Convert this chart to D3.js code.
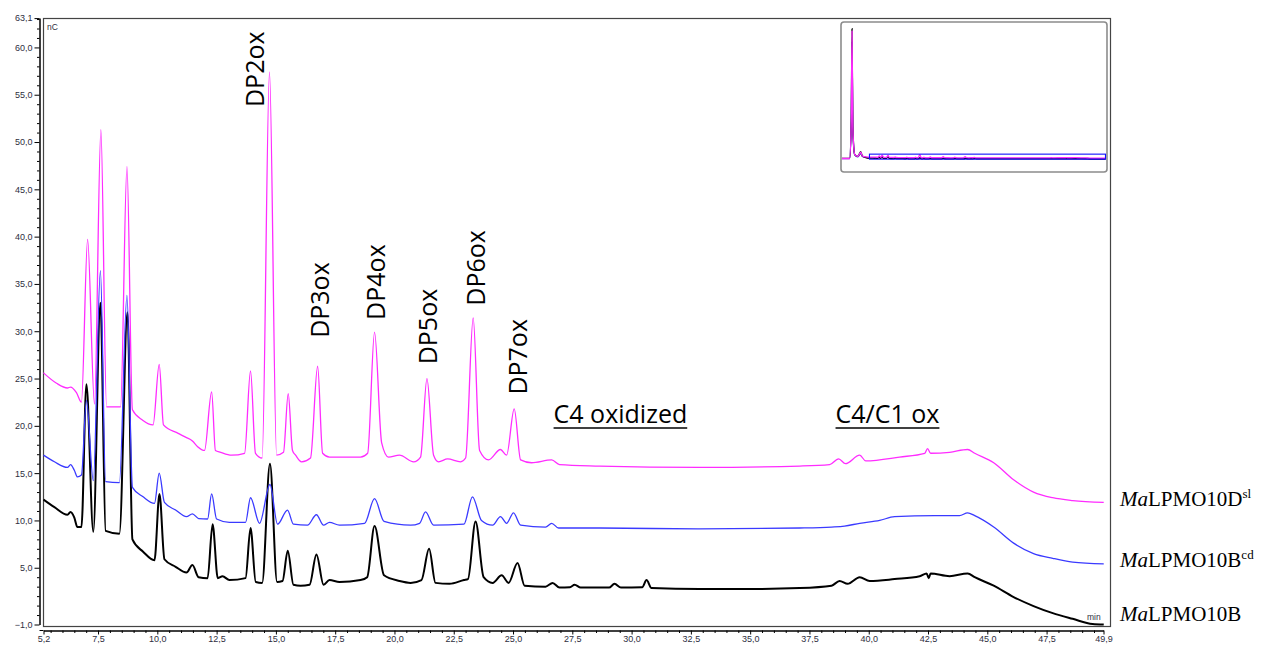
<!DOCTYPE html>
<html>
<head>
<meta charset="utf-8">
<script src="https://cdn.jsdelivr.net/npm/d3@7"></script>
<style>
  body { margin: 0; background: #fff; }
  #chart svg { display: block; }
</style>
</head>
<body>
<div id="chart"></div>
<script>
// retention time (min), signal (nC)
const traceB = [
  [5.20, 12.2], [5.66, 11.4], [6.21, 10.6], [6.34, 10.9], [6.50, 10.3], [6.63, 9.3], [6.80, 9.3],
  [7.01, 24.4], [7.30, 8.8], [7.60, 33.0], [7.82, 8.9], [8.40, 8.6], [8.74, 32.0], [8.95, 8.0],
  [9.40, 6.7], [9.88, 5.8], [10.09, 12.8], [10.30, 5.9], [10.77, 5.1], [11.23, 4.5], [11.48, 5.3],
  [11.74, 4.0], [12.12, 3.9], [12.33, 9.6], [12.55, 3.9], [12.75, 4.1], [13.04, 3.7], [13.72, 3.9],
  [13.93, 9.2], [14.15, 3.5], [14.42, 3.4], [14.75, 16.0], [15.05, 3.5], [15.28, 3.6], [15.50, 6.8],
  [15.74, 3.2], [16.04, 3.1], [16.42, 3.2], [16.71, 6.4], [17.01, 3.2], [17.26, 3.7], [17.68, 3.5],
  [18.57, 3.7], [18.85, 4.0], [19.16, 9.4], [19.56, 4.2], [20.21, 3.6], [20.68, 3.4], [21.14, 3.7],
  [21.46, 7.0], [21.73, 3.4], [22.32, 3.3], [22.93, 3.7], [23.10, 3.8], [23.42, 9.9], [23.76, 4.0],
  [24.14, 3.4], [24.52, 4.2], [24.81, 3.4], [25.19, 5.5], [25.49, 3.1], [26.37, 3.0], [26.67, 3.4],
  [26.96, 2.9], [27.40, 2.95], [27.60, 3.2], [27.85, 2.9], [29.05, 2.9], [29.28, 3.3], [29.55, 2.9],
  [30.45, 2.95], [30.63, 3.7], [30.84, 2.85], [32.87, 2.75], [34.98, 2.75], [37.09, 2.85], [38.43, 3.1],
  [38.77, 3.6], [39.11, 3.3], [39.62, 4.0], [40.04, 3.6], [41.09, 3.8], [42.15, 4.1], [42.44, 4.4],
  [42.53, 3.9], [42.61, 4.4], [43.41, 4.1], [44.17, 4.4], [44.47, 4.0], [45.27, 3.1], [46.11, 1.9],
  [46.95, 0.95], [47.76, 0.2], [48.60, -0.4], [49.44, -0.95], [49.91, -1.0]
]

const traceBcd = [
  [5.20, 16.9], [5.66, 16.2], [6.21, 15.6], [6.34, 15.9], [6.50, 15.3], [6.63, 14.6], [6.80, 14.8],
  [7.01, 22.7], [7.30, 14.2], [7.60, 36.4], [7.82, 14.1], [8.40, 14.0], [8.72, 33.8], [8.95, 13.5],
  [9.40, 12.5], [9.88, 11.8], [10.08, 15.0], [10.30, 11.9], [10.77, 11.1], [11.23, 10.4], [11.48, 10.7],
  [11.74, 10.2], [12.12, 10.15], [12.29, 12.8], [12.50, 10.15], [13.04, 9.8], [13.72, 9.8], [13.93, 12.4],
  [14.31, 9.7], [14.75, 13.8], [15.07, 9.6], [15.49, 11.1], [15.74, 9.6], [16.33, 9.5], [16.71, 10.6],
  [17.01, 9.5], [17.26, 9.8], [17.68, 9.5], [18.74, 9.7], [19.16, 12.3], [19.56, 9.9], [20.68, 9.5],
  [21.06, 9.7], [21.31, 10.9], [21.65, 9.5], [22.93, 9.6], [23.29, 12.5], [23.67, 10.0], [24.14, 9.5],
  [24.47, 10.4], [24.73, 9.7], [25.02, 10.8], [25.32, 9.5], [26.37, 9.3], [26.63, 9.7], [26.92, 9.2],
  [28.65, 9.2], [32.87, 9.1], [37.09, 9.2], [38.43, 9.3], [38.98, 9.4], [39.62, 9.7], [40.46, 10.0],
  [41.09, 10.4], [42.78, 10.5], [43.83, 10.5], [44.17, 10.8], [44.47, 10.5], [45.27, 9.3], [46.11, 7.6],
  [46.95, 6.5], [47.76, 6.0], [48.60, 5.6], [49.91, 5.4]
]

const traceDsl = [
  [5.20, 25.6], [5.75, 24.5], [6.21, 24.0], [6.34, 24.1], [6.59, 23.5], [6.80, 22.5], [7.06, 39.7],
  [7.35, 22.3], [7.62, 51.3], [7.86, 22.0], [8.45, 22.0], [8.72, 47.4], [8.95, 21.7], [9.38, 20.6],
  [9.82, 20.1], [10.08, 26.5], [10.26, 20.1], [10.88, 19.2], [11.19, 18.8], [11.48, 18.4], [11.70, 17.8],
  [11.99, 17.4], [12.29, 23.6], [12.45, 17.4], [12.67, 17.2], [13.13, 16.9], [13.68, 17.1], [13.93, 25.8],
  [14.14, 17.1], [14.42, 16.6], [14.73, 57.4], [15.03, 16.9], [15.32, 17.2], [15.52, 23.4], [15.70, 17.4],
  [15.83, 16.9], [16.08, 16.2], [16.46, 16.6], [16.76, 26.3], [16.97, 17.1], [17.26, 16.7], [17.94, 16.7],
  [18.57, 16.7], [18.87, 17.1], [19.16, 29.9], [19.46, 18.2], [19.75, 16.7], [20.21, 16.9], [20.81, 16.2],
  [21.10, 16.7], [21.37, 25.0], [21.65, 16.9], [21.86, 16.2], [22.24, 16.5], [22.79, 16.2], [23.00, 16.6],
  [23.32, 31.4], [23.59, 17.4], [23.97, 16.4], [24.47, 17.5], [24.73, 16.9], [25.05, 21.8], [25.32, 16.4],
  [25.78, 16.1], [26.63, 16.4], [26.96, 15.9], [28.65, 15.75], [32.87, 15.6], [37.09, 15.75], [38.35, 15.9],
  [38.73, 16.5], [39.02, 16.0], [39.62, 16.9], [39.87, 16.3], [41.30, 16.7], [42.36, 17.1], [42.48, 17.6],
  [42.61, 17.1], [43.41, 17.2], [44.17, 17.5], [44.47, 17.1], [45.27, 16.1], [46.11, 14.3], [46.95, 13.0],
  [47.76, 12.4], [48.60, 12.1], [49.91, 11.9]
]

// start of the run (0 - 5.2 min), only seen in the overview inset
const earlyB = [[0, 8], [1.45, 8], [1.75, 500], [1.9, 1670], [2.05, 420], [2.4, 60], [3.0, 35], [3.55, 95], [3.85, 40], [4.5, 20]]
const earlyBcd = [[0, 6], [1.45, 6], [1.75, 450], [1.9, 1500], [2.05, 380], [2.4, 55], [3.0, 30], [3.55, 70], [3.85, 35], [4.5, 22]]
const earlyDsl = [[0, 7], [1.45, 7], [1.75, 480], [1.9, 1640], [2.05, 410], [2.4, 60], [3.0, 35], [3.55, 90], [3.85, 40], [4.5, 28]]

const seriesNames = ['MaLPMO10B', 'MaLPMO10B', 'MaLPMO10D']
const seriesSup = ['', 'cd', 'sl']

const xMajorTicks = [5.2, 7.5, 10, 12.5, 15, 17.5, 20, 22.5, 25, 27.5, 30, 32.5, 35, 37.5, 40, 42.5, 45, 47.5, 49.9]
const yMajorTicks = [-1, 5, 10, 15, 20, 25, 30, 35, 40, 45, 50, 55, 60, 63.1]

const peakLabels = ['DP2ox', 'DP3ox', 'DP4ox', 'DP5ox', 'DP6ox', 'DP7ox']
const peakLabelTime = [14.48, 17.26, 19.62, 21.78, 23.8, 25.57]
const peakLabelValue = [53.7, 29.3, 31.2, 26.5, 32.7, 23.3]
const regionLabels = ['C4 oxidized', 'C4/C1 ox']
const regionLabelTime = [26.71, 38.6]
const regionLabelValue = 20.3

const width = 1266
const height = 645
const frame = { left: 43, right: 1111, top: 18, bottom: 627 }
const xAxisY = 630.5

const x = d3.scaleLinear().domain([5.2, 49.9]).range([43.5, 1103.5])
const y = d3.scaleLinear().domain([-1, 63.1]).range([624.5, 18.1])

const fmt = d3.formatLocale({ decimal: ',', thousands: '.', grouping: [3], currency: ['', ''] }).format('.1f')

const svg = d3.select('#chart')
  .append('svg')
  .attr('width', width)
  .attr('height', height)

svg.append('defs').append('clipPath')
  .attr('id', 'plot-clip')
  .append('rect')
  .attr('x', frame.left)
  .attr('y', frame.top)
  .attr('width', frame.right - frame.left)
  .attr('height', frame.bottom - frame.top)

// frame
svg.append('rect')
  .attr('x', frame.left + 0.5)
  .attr('y', frame.top + 0.5)
  .attr('width', frame.right - frame.left - 1)
  .attr('height', frame.bottom - frame.top - 1)
  .attr('fill', 'none')
  .attr('stroke', '#444')
  .attr('stroke-width', 1.2)

// y axis
const yMinor = d3.range(-1, 63.1, 1).filter(v => !yMajorTicks.includes(v))
svg.append('g')
  .attr('transform', 'translate(39.5,0)')
  .call(d3.axisLeft(y).tickValues(yMinor).tickSize(2.5).tickSizeOuter(0).tickFormat(''))
svg.append('g')
  .attr('class', 'axis')
  .attr('transform', 'translate(39.5,0)')
  .call(d3.axisLeft(y).tickValues(yMajorTicks).tickSize(5).tickSizeOuter(0).tickPadding(2).tickFormat(fmt))

// x axis
const xMinor = d3.range(5.5, 49.9, 0.5).filter(v => !xMajorTicks.includes(v))
svg.append('g')
  .attr('transform', `translate(0,${xAxisY})`)
  .call(d3.axisBottom(x).tickValues(xMinor).tickSize(2.5).tickSizeOuter(0).tickFormat(''))
svg.append('g')
  .attr('class', 'axis')
  .attr('transform', `translate(0,${xAxisY})`)
  .call(d3.axisBottom(x).tickValues(xMajorTicks).tickSize(4).tickSizeOuter(0).tickPadding(1).tickFormat(fmt))
svg.append('line')
  .attr('x1', 39.5).attr('x2', 43.5)
  .attr('y1', xAxisY).attr('y2', xAxisY)
  .attr('stroke', '#000')

svg.selectAll('.axis text')
  .attr('font-family', 'Liberation Sans, Arial, sans-serif')
  .attr('font-size', 9)
  .attr('fill', '#2e2e40')

svg.append('text')
  .attr('x', 47).attr('y', 30)
  .attr('font-family', 'Liberation Sans, Arial, sans-serif')
  .attr('font-size', 8.5)
  .attr('fill', '#2e2e40')
  .text('nC')
svg.append('text')
  .attr('x', 1087).attr('y', 620)
  .attr('font-family', 'Liberation Sans, Arial, sans-serif')
  .attr('font-size', 8.5)
  .attr('fill', '#2e2e40')
  .text('min')

// traces
const line = d3.line()
  .x(d => x(d[0]))
  .y(d => y(d[1]))
  .curve(d3.curveMonotoneX)

const traces = [
  { data: traceB, color: '#000000', w: 2 },
  { data: traceBcd, color: '#3a3aff', w: 1.3 },
  { data: traceDsl, color: '#ff2cff', w: 1.3 }
]

const plot = svg.append('g').attr('clip-path', 'url(#plot-clip)')
plot.selectAll('path.trace')
  .data(traces)
  .enter()
  .append('path')
  .attr('class', 'trace')
  .attr('d', d => line(d.data))
  .attr('fill', 'none')
  .attr('stroke', d => d.color)
  .attr('stroke-width', d => d.w)
  .attr('stroke-linejoin', 'round')

// annotations
svg.selectAll('text.peak')
  .data(peakLabels)
  .enter()
  .append('text')
  .attr('class', 'peak')
  .attr('transform', (d, i) => `translate(${x(peakLabelTime[i])},${y(peakLabelValue[i])}) rotate(-90)`)
  .attr('font-family', 'Open Sans, Noto Sans, sans-serif')
  .attr('font-size', 25)
  .attr('fill', '#000')
  .text(d => d)

const regions = svg.selectAll('g.region')
  .data(regionLabels)
  .enter()
  .append('g')
  .attr('class', 'region')
  .attr('transform', (d, i) => `translate(${x(regionLabelTime[i])},${y(regionLabelValue)})`)

regions.append('text')
  .attr('font-family', 'Open Sans, Noto Sans, sans-serif')
  .attr('font-size', 25)
  .attr('fill', '#000')
  .text(d => d)

regions.each(function () {
  const g = d3.select(this)
  const w = g.select('text').node().getComputedTextLength()
  g.append('line')
    .attr('x1', 0).attr('x2', w)
    .attr('y1', 5).attr('y2', 5)
    .attr('stroke', '#000')
    .attr('stroke-width', 1.6)
})

// series names on the right
const legendY = [621, 567, 506]
const legend = svg.selectAll('text.legend')
  .data(seriesNames)
  .enter()
  .append('text')
  .attr('class', 'legend')
  .attr('x', 1120)
  .attr('y', (d, i) => legendY[i])
  .attr('font-family', 'Liberation Serif, Times New Roman, serif')
  .attr('font-size', 21)
  .attr('fill', '#000')

legend.append('tspan').attr('font-style', 'italic').text(d => d.slice(0, 2))
legend.append('tspan').text(d => d.slice(2))
legend.append('tspan')
  .attr('font-size', 13)
  .attr('dy', -8)
  .text((d, i) => seriesSup[i])

// overview inset
const inset = { left: 841, top: 22, right: 1107, bottom: 172 }
const xi = d3.scaleLinear().domain([0, 50]).range([842, 1106])
const yi = d3.scaleLinear().domain([-140, 1730]).range([170, 24])

svg.append('defs').append('clipPath')
  .attr('id', 'inset-clip')
  .append('rect')
  .attr('x', inset.left + 1)
  .attr('y', inset.top + 1)
  .attr('width', inset.right - inset.left - 2)
  .attr('height', inset.bottom - inset.top - 2)

svg.append('rect')
  .attr('x', inset.left)
  .attr('y', inset.top)
  .attr('width', inset.right - inset.left)
  .attr('height', inset.bottom - inset.top)
  .attr('rx', 3)
  .attr('fill', '#fff')
  .attr('stroke', '#8c8c8c')
  .attr('stroke-width', 1.6)

const lineInset = d3.line()
  .x(d => xi(d[0]))
  .y(d => yi(d[1]))
  .curve(d3.curveMonotoneX)

const insetTraces = [
  { data: earlyBcd.concat(traceBcd), color: '#3030c0' },
  { data: earlyB.concat(traceB), color: '#000' },
  { data: earlyDsl.concat(traceDsl), color: '#ff2cff' }
]

svg.append('g')
  .attr('clip-path', 'url(#inset-clip)')
  .selectAll('path')
  .data(insetTraces)
  .enter()
  .append('path')
  .attr('d', d => lineInset(d.data))
  .attr('fill', 'none')
  .attr('stroke', d => d.color)
  .attr('stroke-width', 1.3)

svg.append('rect')
  .attr('x', xi(5.2))
  .attr('y', yi(63.1))
  .attr('width', xi(49.9) - xi(5.2))
  .attr('height', yi(-1) - yi(63.1))
  .attr('fill', 'none')
  .attr('stroke', '#1010ff')
  .attr('stroke-width', 1.1)
</script>
</body>
</html>
